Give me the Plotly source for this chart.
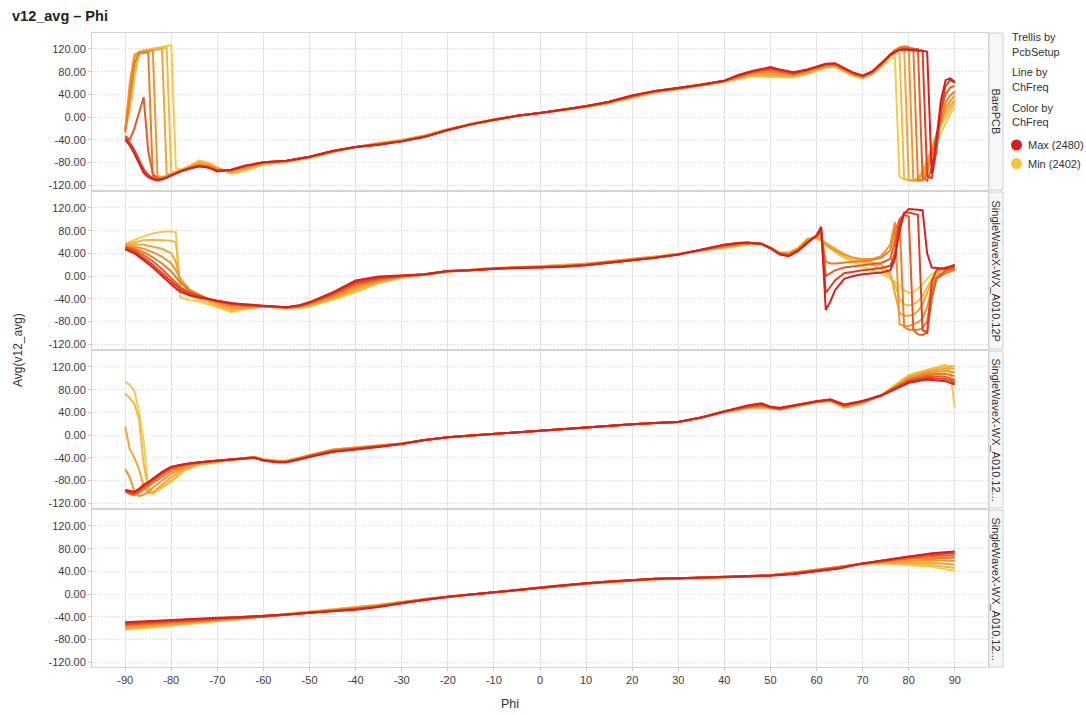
import plotly.graph_objects as go
from plotly.subplots import make_subplots
from plotly.colors import sample_colorscale

# ---------------- data ----------------
CHANNELS = [2402, 2412, 2424, 2434, 2446, 2458, 2468, 2480]
PANELS = ["BarePCB", "SingleWaveX-WX_A010.12P",
          "SingleWaveX-WX_A010.12...", "SingleWaveX-WX_A010.12..."]
X_TICKS = [-90, -80, -70, -60, -50, -40, -30, -20, -10, 0, 10, 20, 30, 40, 50, 60, 70, 80, 90]
Y_TICKS = [-120, -80, -40, 0, 40, 80, 120]

# Panel 1 : BarePCB
P1_X = [-90, -89, -88, -87, -86, -85, -84, -83, -82, -81, -80, -79, -78, -76, -74, -72, -70, -67, -64, -60,
        -55, -50, -45, -40, -35, -30, -25, -20, -15, -10, -5, 0, 5, 10, 15, 20, 25, 30, 35, 40,
        43, 46, 48, 50, 52, 55, 58, 60, 62, 64, 66, 68, 70, 72, 74, 75, 76, 77, 78, 79, 80, 81, 82, 83, 84, 85, 86, 87, 88, 89, 90]
P1_Y = [
    [-18, 20, 85, 115, 118, 120, 121, 122, 124, 125, 127, -90, -93, -86, -77, -80, -88, -100, -95, -84,
     -79, -72, -62, -53, -46, -40, -32, -21, -12, -4, 2, 7, 12, 17, 24, 34, 43, 49, 55, 62,
     67, 72, 71, 70, 70, 70, 76, 82, 87, 88, 80, 72, 69, 75, 88, 96, 103, 105, -105, -110, -112, -112, -110, -100, -85, -65, -45, -28, -12, 5, 18],
    [-20, 10, 70, 112, 117, 118, 119, 120, 121, 122, -98, -96, -94, -87, -79, -82, -90, -99, -93, -83,
     -79, -72, -62, -53, -46, -41, -33, -22, -12, -4, 2, 7, 12, 18, 25, 35, 44, 49, 55, 62,
     68, 74, 73, 72, 72, 71, 77, 83, 88, 89, 81, 73, 69, 76, 90, 99, 108, 112, 112, -108, -112, -112, -108, -95, -75, -55, -35, -15, 0, 12, 25],
    [-22, 40, 105, 115, 116, 117, 118, 119, 120, -100, -102, -98, -95, -88, -81, -84, -91, -97, -91, -82,
     -78, -71, -61, -53, -47, -41, -33, -22, -13, -5, 2, 7, 12, 18, 25, 36, 44, 50, 56, 63,
     69, 75, 75, 75, 74, 72, 78, 84, 89, 90, 82, 74, 70, 77, 91, 100, 110, 118, 122, 123, -110, -113, -110, -100, -80, -55, -30, -10, 8, 20, 30],
    [-25, 60, 110, 114, 115, 116, 117, -104, -106, -104, -101, -98, -95, -89, -83, -86, -92, -96, -89, -81,
     -78, -71, -61, -53, -47, -42, -34, -22, -13, -5, 2, 7, 13, 18, 26, 36, 45, 50, 56, 63,
     70, 77, 78, 78, 77, 74, 80, 85, 90, 91, 83, 75, 70, 77, 92, 101, 111, 118, 123, 125, 124, -110, -113, -108, -88, -60, -30, -5, 15, 28, 38],
    [-28, 30, 95, 112, 113, 114, -105, -108, -108, -105, -102, -98, -96, -90, -85, -87, -93, -95, -88, -81,
     -78, -71, -61, -53, -48, -42, -34, -23, -13, -5, 2, 7, 13, 19, 26, 37, 45, 50, 56, 64,
     71, 78, 80, 81, 79, 75, 81, 86, 91, 92, 84, 76, 71, 78, 92, 101, 110, 117, 122, 123, 122, 121, -112, -112, -100, -70, -35, 0, 25, 38, 45],
    [-33, -40, -20, 10, 35, -60, -100, -108, -110, -107, -103, -99, -96, -90, -86, -88, -94, -94, -87, -80,
     -77, -70, -60, -53, -48, -43, -35, -23, -13, -5, 2, 7, 13, 19, 27, 37, 46, 51, 57, 64,
     72, 79, 82, 84, 81, 76, 82, 87, 92, 93, 85, 77, 72, 79, 93, 102, 110, 116, 120, 121, 120, 120, 120, -105, -112, -90, -45, 10, 40, 52, 55],
    [-36, -45, -58, -75, -92, -102, -108, -111, -110, -107, -103, -99, -96, -91, -87, -89, -95, -93, -86, -80,
     -77, -70, -60, -53, -49, -43, -35, -23, -13, -5, 2, 7, 13, 19, 27, 38, 46, 51, 57, 64,
     73, 80, 84, 86, 83, 78, 83, 88, 93, 94, 86, 78, 73, 80, 94, 102, 109, 114, 118, 120, 119, 119, 118, 117, -105, -108, -60, 15, 55, 65, 60],
    [-40, -50, -65, -82, -98, -106, -110, -112, -110, -107, -103, -99, -96, -91, -87, -89, -96, -93, -86, -80,
     -77, -70, -60, -53, -49, -43, -35, -23, -13, -5, 2, 7, 13, 19, 27, 38, 46, 51, 57, 64,
     74, 81, 85, 88, 84, 79, 84, 89, 94, 95, 86, 78, 73, 80, 95, 103, 110, 115, 118, 119, 118, 118, 117, 117, 115, -100, -40, 30, 65, 68, 62],
]

# Panel 2 : SingleWaveX-WX_A010.12P
P2_X = [-90, -88, -86, -84, -82, -80, -79, -78, -76, -74, -72, -70, -67, -64, -60,
        -55, -52, -50, -45, -40, -35, -30, -25, -20, -15, -10, -5, 0, 5, 10, 15, 20, 25, 30, 35, 40, 43, 45, 48, 50, 52, 54, 56, 58,
        60, 61, 62, 63, 64, 66, 68, 70, 72, 74, 76, 77, 78, 79, 80, 81, 82, 83, 84, 85, 86, 88, 90]
P2_Y = [
    [57, 64, 70, 75, 78, 79, 77, -38, -43, -45, -50, -55, -64, -58, -54,
     -57, -56, -54, -42, -29, -13, -3, 2, 8, 11, 14, 16, 17, 19, 22, 26, 31, 34, 39, 45, 49, 53, 56, 56, 50, 42, 42, 50, 66,
     67, 61, 55, 48, 42, 32, 25, 18, 10, 5, -5, -10, -17, -25, -30, -28, -23, -15, -5, 3, 8, 13, 17],
    [56, 60, 63, 64, 63, 62, 60, -20, -35, -40, -46, -53, -62, -58, -54,
     -57, -55, -53, -41, -26, -12, -2, 2, 8, 11, 14, 16, 17, 19, 22, 26, 30, 34, 39, 45, 50, 54, 56, 56, 50, 41, 41, 49, 65,
     68, 62, 56, 50, 44, 34, 28, 24, 20, 12, 0, -15, -40, -50, -52, -50, -45, -35, -20, -5, 5, 12, 15],
    [55, 56, 55, 52, 48, 40, 25, -10, -28, -35, -43, -50, -58, -57, -54,
     -56, -55, -52, -39, -23, -10, -2, 2, 8, 11, 14, 15, 16, 18, 21, 25, 30, 33, 39, 45, 51, 54, 57, 56, 50, 41, 40, 48, 64,
     69, 64, 58, 53, 48, 38, 32, 28, 25, 20, 5, -30, -65, -70, -70, -68, -62, -50, -30, -10, 0, 8, 12],
    [53, 52, 48, 42, 34, 22, 10, -5, -24, -33, -41, -48, -55, -55, -54,
     -56, -54, -50, -37, -20, -9, -1, 2, 8, 11, 14, 15, 16, 18, 21, 25, 29, 33, 39, 46, 52, 55, 57, 57, 50, 40, 39, 48, 63,
     70, 66, 55, 50, 45, 38, 32, 30, 30, 35, 55, 95, -85, -88, -88, -85, -82, -75, -55, -20, 0, 5, 10],
    [52, 49, 42, 33, 22, 8, -2, -12, -26, -34, -40, -46, -52, -53, -53,
     -56, -53, -49, -35, -17, -7, -1, 2, 8, 10, 13, 15, 16, 17, 20, 24, 28, 33, 38, 46, 53, 56, 58, 57, 50, 40, 38, 47, 61,
     70, 76, 25, 22, 22, 24, 25, 26, 28, 32, 45, 80, 100, -90, -95, -95, -95, -92, -80, -30, -5, 5, 12],
    [51, 46, 37, 26, 12, -3, -12, -20, -29, -35, -40, -45, -50, -52, -53,
     -55, -53, -48, -33, -14, -5, 0, 3, 9, 10, 13, 15, 15, 17, 20, 24, 28, 32, 38, 46, 54, 57, 58, 57, 49, 39, 37, 46, 60,
     70, 80, 0, 5, 10, 15, 17, 18, 20, 23, 30, 60, 100, 108, 105, -95, -103, -104, -100, -40, -5, 10, 15],
    [49, 43, 32, 20, 5, -10, -18, -24, -31, -36, -40, -44, -48, -51, -53,
     -55, -52, -47, -31, -11, -3, 0, 3, 9, 10, 13, 14, 15, 17, 19, 23, 27, 32, 38, 46, 55, 58, 59, 57, 49, 39, 36, 45, 59,
     71, 84, -30, -20, -8, 5, 8, 10, 12, 14, 18, 40, 90, 112, 112, 110, 108, -95, -100, -10, 10, 15, 18],
    [47, 40, 28, 15, 0, -15, -22, -28, -34, -38, -41, -44, -48, -50, -52,
     -55, -51, -46, -29, -8, -1, 1, 3, 9, 10, 13, 14, 15, 16, 19, 23, 27, 32, 38, 46, 55, 58, 59, 57, 49, 38, 35, 44, 58,
     72, 87, -60, -45, -25, -5, 0, 3, 5, 6, 10, 30, 80, 110, 118, 118, 117, 116, 40, 15, 14, 13, 20],
]

# Panel 3
P3_X = [-90, -89, -88, -87, -86, -85, -84, -82, -80, -77, -74, -70, -65, -62, -60, -57, -55, -52, -50,
        -45, -40, -35, -30, -25, -20, -15, -10, -5, 0, 5, 10, 15, 20, 25, 30, 35, 40, 45,
        48, 50, 52, 55, 60, 63, 66, 70, 74, 77, 80, 84, 88, 89, 90]
P3_Y = [
    [95, 88, 78, 40, -10, -90, -104, -93, -83, -62, -53, -48, -43, -39, -43, -45, -45, -40, -35,
     -26, -22, -19, -15, -9, -4, -1, 2, 5, 8, 10, 13, 16, 19, 21, 23, 31, 40, 47,
     48, 47, 45, 50, 58, 60, 48, 56, 70, 88, 106, 115, 124, 110, 48],
    [73, 65, 55, 28, -50, -95, -102, -92, -80, -61, -52, -47, -43, -39, -43, -46, -46, -40, -35,
     -26, -22, -19, -15, -9, -4, -1, 2, 5, 8, 10, 13, 16, 19, 21, 23, 31, 40, 47,
     49, 47, 45, 50, 58, 60, 48, 56, 70, 87, 104, 114, 121, 122, 121],
    [15, -25, -40, -60, -90, -103, -101, -88, -74, -58, -51, -46, -42, -39, -43, -46, -46, -40, -35,
     -26, -22, -19, -15, -9, -4, -1, 2, 5, 8, 10, 13, 16, 19, 21, 23, 31, 41, 48,
     50, 47, 45, 50, 58, 60, 49, 57, 70, 86, 102, 112, 117, 118, 117],
    [-60, -75, -100, -108, -105, -100, -93, -80, -68, -56, -50, -46, -42, -39, -44, -46, -46, -40, -35,
     -26, -23, -19, -15, -9, -4, -1, 2, 5, 8, 10, 13, 16, 19, 21, 23, 31, 41, 48,
     51, 48, 45, 50, 58, 61, 50, 57, 70, 85, 100, 110, 113, 112, 110],
    [-100, -104, -106, -102, -96, -90, -85, -74, -63, -54, -49, -46, -42, -39, -44, -47, -47, -41, -36,
     -27, -24, -20, -15, -9, -4, -1, 2, 5, 8, 10, 13, 16, 19, 21, 23, 31, 41, 49,
     52, 48, 46, 51, 59, 61, 51, 58, 70, 84, 98, 107, 108, 106, 104],
    [-99, -103, -104, -99, -92, -87, -81, -69, -59, -52, -48, -45, -42, -40, -44, -47, -47, -42, -37,
     -28, -24, -20, -16, -9, -4, -1, 2, 5, 8, 10, 13, 16, 19, 21, 23, 31, 42, 50,
     53, 49, 46, 51, 59, 62, 52, 59, 70, 83, 96, 104, 103, 100, 97],
    [-98, -101, -102, -97, -90, -85, -79, -67, -57, -51, -48, -45, -42, -40, -45, -48, -48, -43, -38,
     -29, -25, -21, -16, -9, -4, -1, 2, 5, 8, 10, 13, 16, 19, 21, 23, 31, 42, 51,
     55, 49, 47, 52, 60, 62, 53, 60, 70, 82, 94, 101, 99, 96, 93],
    [-97, -99, -100, -95, -88, -83, -77, -65, -56, -51, -48, -45, -42, -40, -45, -48, -48, -43, -39,
     -30, -26, -21, -16, -9, -4, -1, 2, 5, 8, 10, 13, 16, 19, 21, 23, 31, 42, 52,
     56, 50, 48, 52, 60, 63, 54, 60, 69, 80, 92, 98, 95, 92, 89],
]

# Panel 4
P4_X = [-90, -85, -80, -75, -70, -65, -60, -55, -50, -45, -40, -35, -30, -25, -20, -15, -10, -5, 0,
        5, 10, 15, 20, 25, 30, 35, 40, 45, 50, 55, 60, 65, 70, 75, 80, 85, 90]
P4_Y = [
    [-63, -60, -56, -52, -48, -44, -40, -36, -32, -28, -23, -19, -14, -9, -5, -1, 3, 7, 11, 15, 18, 21, 24, 26, 27, 28, 29, 31, 33, 38, 43, 48, 53, 54, 51, 48, 41],
    [-62, -59, -55, -51, -47, -44, -40, -36, -32, -28, -24, -19, -14, -9, -5, -1, 3, 7, 11, 15, 18, 21, 24, 26, 27, 28, 29, 31, 33, 38, 43, 48, 53, 55, 53, 51, 46],
    [-60, -57, -53, -50, -47, -44, -40, -36, -32, -28, -24, -20, -14, -9, -5, -1, 3, 7, 11, 15, 18, 21, 24, 26, 27, 28, 29, 31, 33, 37, 43, 48, 53, 56, 56, 55, 52],
    [-58, -55, -52, -49, -46, -43, -40, -36, -32, -29, -25, -21, -15, -9, -5, -1, 3, 8, 11, 15, 18, 21, 24, 26, 27, 28, 29, 31, 33, 37, 42, 48, 54, 57, 59, 60, 58],
    [-56, -53, -51, -48, -45, -43, -40, -36, -33, -29, -25, -21, -15, -9, -5, -1, 3, 8, 12, 16, 19, 22, 25, 27, 28, 29, 30, 31, 33, 37, 42, 47, 54, 58, 62, 63, 64],
    [-54, -51, -49, -47, -44, -42, -40, -36, -33, -30, -26, -22, -15, -10, -5, -1, 3, 8, 12, 16, 19, 22, 25, 27, 28, 29, 30, 31, 33, 36, 41, 47, 54, 59, 64, 67, 68],
    [-52, -49, -47, -45, -43, -41, -39, -36, -33, -30, -27, -22, -16, -10, -5, -1, 3, 8, 12, 16, 19, 22, 25, 27, 28, 29, 30, 31, 33, 36, 41, 46, 54, 60, 66, 70, 72],
    [-50, -48, -45, -44, -42, -41, -39, -36, -33, -31, -28, -23, -16, -10, -5, -1, 3, 8, 12, 16, 19, 22, 25, 27, 28, 29, 30, 31, 32, 35, 40, 45, 54, 60, 67, 72, 75],
]

PANEL_DATA = [(P1_X, P1_Y), (P2_X, P2_Y), (P3_X, P3_Y), (P4_X, P4_Y)]
for px_, py_ in PANEL_DATA:
    for row in py_:
        assert len(row) == len(px_), (len(row), len(px_))

# ---------------- figure ----------------
FONT = "Liberation Sans, Arial, sans-serif"
W, H = 1086, 715
ML, MR, MT, MB = 92, 98, 33, 48
PW, PH = W - ML - MR, H - MT - MB


def px_x(p):
    return (p - ML) / PW


def px_y(p):
    return (H - MB - p) / PH


SCALE = [[0, "#F5CB4A"], [0.5, "#EE8A2A"], [1, "#D91E1E"]]
COLORS = sample_colorscale(SCALE, [(c - CHANNELS[0]) / (CHANNELS[-1] - CHANNELS[0]) for c in CHANNELS])

fig = make_subplots(rows=4, cols=1, shared_xaxes=True, vertical_spacing=0.003)

for r, (xs, ys) in enumerate(PANEL_DATA):
    for ch, yv, col in zip(CHANNELS, ys, COLORS):
        fig.add_trace(go.Scatter(x=xs, y=yv, mode="lines", name=str(ch),
                                 line=dict(color=col, width=2), showlegend=False,
                                 hoverinfo="skip"), row=r + 1, col=1)

# panel pixel extents (top, bottom)
PANEL_PX = [(33, 190), (192, 349), (351, 508), (510, 667)]

for i, (top, bot) in enumerate(PANEL_PX):
    sfx = "" if i == 0 else str(i + 1)
    fig.layout["yaxis" + sfx].update(
        domain=[px_y(bot), px_y(top)],
        range=[-128.8, 148.2], tickmode="array", tickvals=Y_TICKS,
        ticktext=[f"{v:.2f}" for v in Y_TICKS],
        showgrid=True, gridcolor="#d2d2d2", griddash="1px,2px", gridwidth=1,
        zeroline=False, showline=True, linecolor="#d4d4d4", mirror=True,
        ticks="outside", ticklen=3, tickcolor="#c8c8c8",
        tickfont=dict(family=FONT, size=11, color="#3c3c3c"),
    )
    fig.layout["xaxis" + sfx].update(
        range=[-97.2, 97.2], tickmode="array", tickvals=X_TICKS,
        ticktext=[str(v) for v in X_TICKS],
        showgrid=True, gridcolor="#e4e4e4", gridwidth=1, zeroline=False,
        showline=True, linecolor="#d4d4d4", mirror=True,
        ticks="outside" if i == 3 else "", ticklen=3, tickcolor="#c8c8c8",
        showticklabels=(i == 3),
        tickfont=dict(family=FONT, size=11, color="#3c3c3c"),
    )

shapes = []
annotations = []
# strip labels
for (top, bot), name in zip(PANEL_PX, PANELS):
    shapes.append(dict(type="rect", xref="paper", yref="paper",
                       x0=px_x(989), x1=px_x(1003), y0=px_y(bot), y1=px_y(top),
                       fillcolor="#f6f6f6", line=dict(color="#d0d0d0", width=1), layer="below"))
    annotations.append(dict(xref="paper", yref="paper", x=px_x(996), y=px_y((top + bot) / 2),
                            text=name, textangle=90, showarrow=False,
                            font=dict(family=FONT, size=11, color="#333333"),
                            xanchor="center", yanchor="middle"))

# legend block
LEG = [("Trellis by", 37.5), ("PcbSetup", 52), ("Line by", 72.5), ("ChFreq", 87),
       ("Color by", 107.5), ("ChFreq", 121.5)]
for txt, yy in LEG:
    annotations.append(dict(xref="paper", yref="paper", x=px_x(1010), y=px_y(yy), text=txt,
                            showarrow=False, xanchor="left", yanchor="middle",
                            font=dict(family=FONT, size=11, color="#333333")))
for label, yy, col in [(f"Max ({CHANNELS[-1]})", 145, "#D91E1E"), (f"Min ({CHANNELS[0]})", 163.5, "#F3C744")]:
    shapes.append(dict(type="circle", xref="paper", yref="paper",
                       xsizemode="pixel", ysizemode="pixel",
                       xanchor=px_x(1016.5), yanchor=px_y(yy),
                       x0=-5.5, x1=5.5, y0=-5.5, y1=5.5,
                       fillcolor=col, line=dict(width=0)))
    annotations.append(dict(xref="paper", yref="paper", x=px_x(1026), y=px_y(yy), text=label,
                            showarrow=False, xanchor="left", yanchor="middle",
                            font=dict(family=FONT, size=11, color="#333333")))

# title & axis titles
annotations.append(dict(xref="paper", yref="paper", x=px_x(10), y=px_y(16),
                        text="<b>v12_avg \u2013 Phi</b>", showarrow=False,
                        xanchor="left", yanchor="middle",
                        font=dict(family=FONT, size=14.5, color="#222222")))
annotations.append(dict(xref="paper", yref="paper", x=px_x(18), y=px_y(350),
                        text="Avg(v12_avg)", textangle=-90, showarrow=False,
                        xanchor="center", yanchor="middle",
                        font=dict(family=FONT, size=12, color="#333333")))
annotations.append(dict(xref="paper", yref="paper", x=px_x(510), y=px_y(704),
                        text="Phi", showarrow=False, xanchor="center", yanchor="middle",
                        font=dict(family=FONT, size=12.5, color="#333333")))

fig.update_layout(
    width=W, height=H,
    margin=dict(l=ML, r=MR, t=MT, b=MB, autoexpand=False),
    paper_bgcolor="white", plot_bgcolor="white",
    shapes=shapes, annotations=annotations, showlegend=False,
    font=dict(family=FONT),
)

fig.write_html("out.html", config={"displayModeBar": False},
               post_script="document.body.style.margin='0px';document.body.style.overflow='hidden';")
